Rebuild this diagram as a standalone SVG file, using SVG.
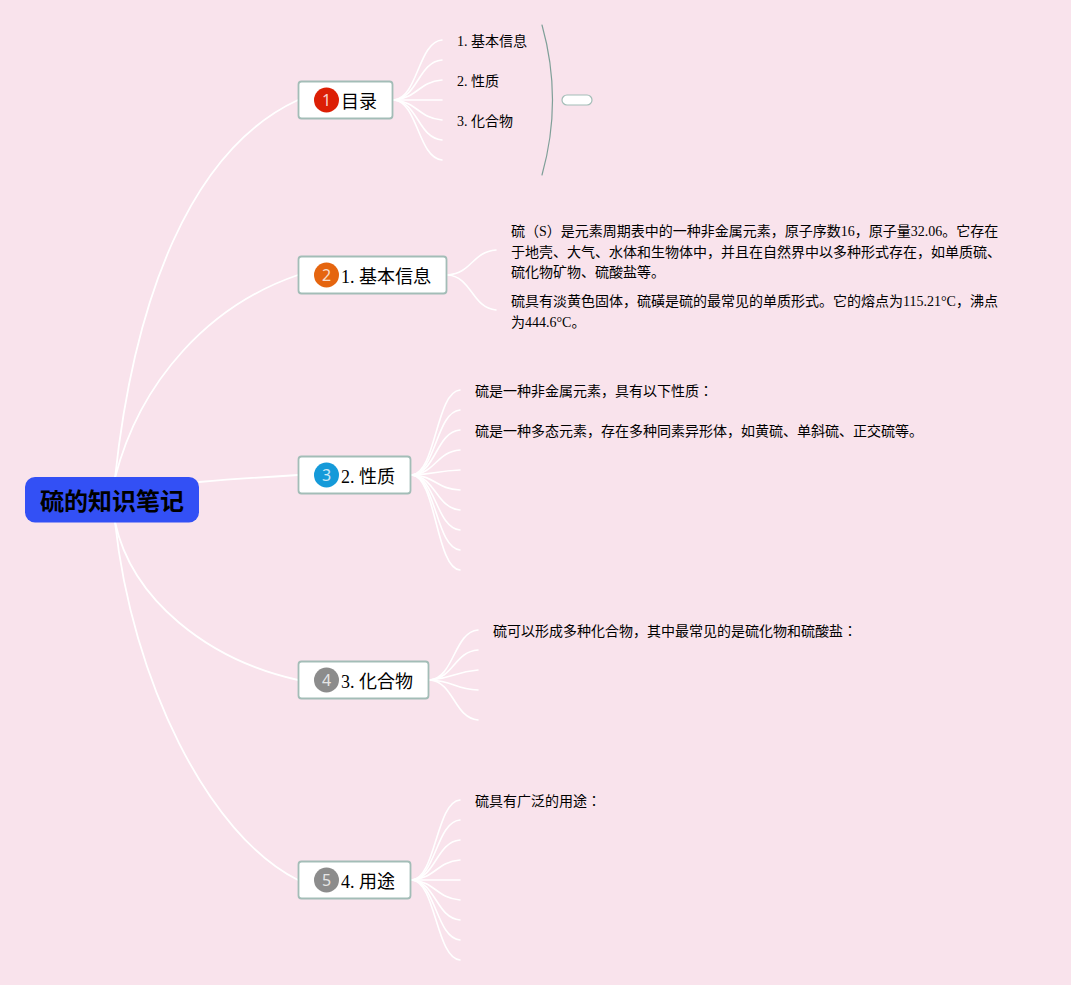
<svg xmlns="http://www.w3.org/2000/svg" width="1071" height="985" viewBox="0 0 1071 985">
<style>
text{font-family:"Liberation Serif","Noto Sans CJK JP",serif;fill:#000}
.c path{fill:none;stroke:#fff;stroke-linecap:round}
.m{stroke-width:1.800}
.s{stroke-width:1.600}
.n{fill:#fff;stroke:#a3bdb7;stroke-width:1.800}
.t{font-size:18px}
.d{font-size:14px}
.i{font-family:"Noto Sans","Liberation Sans",sans-serif;font-size:16px;fill:#fff;fill-opacity:.8;text-anchor:middle}
</style>
<rect width="1071" height="985" fill="#f9e3ec"/>
<g id="connectors" class="c">
<g class="m">
<path d="M115 478C134 300 190 150 298 100"/>
<path d="M115 478C140 380 210 305 298 275"/>
<path d="M199 482C235 479 265 477 298 475"/>
<path d="M115 522C132 600 208 660 298 680"/>
<path d="M115 522C132 680 208 835 298 880"/>
</g>
<g class="s">
<path d="M394 100C418 98 418 42 442 40"/><path d="M394 100C418 98 418 62 442 60"/><path d="M394 100C418 98 418 82 442 80"/><path d="M394 100H442"/><path d="M394 100C418 102 418 118 442 120"/><path d="M394 100C418 102 418 138 442 140"/><path d="M394 100C418 102 418 158 442 160"/>
<path d="M448 275C472 273 472 252 496 250"/><path d="M448 275C472 277 472 308 496 310"/>
<path d="M412 475C436 473 436 392 460 390"/><path d="M412 475C436 473 436 412 460 410"/><path d="M412 475C436 473 436 432 460 430"/><path d="M412 475C436 473 436 452 460 450"/><path d="M412 475C436 474 436 471 460 470"/><path d="M412 475C436 476 436 489 460 490"/><path d="M412 475C436 477 436 508 460 510"/><path d="M412 475C436 477 436 528 460 530"/><path d="M412 475C436 477 436 548 460 550"/><path d="M412 475C436 477 436 568 460 570"/>
<path d="M430 680C454 678 454 632 478 630"/><path d="M430 680C454 678 454 652 478 650"/><path d="M430 680C454 678 454 672 478 670"/><path d="M430 680C454 681 454 689 478 690"/><path d="M430 680C454 682 454 718 478 720"/>
<path d="M412 880C436 878 436 802 460 800"/><path d="M412 880C436 878 436 822 460 820"/><path d="M412 880C436 878 436 842 460 840"/><path d="M412 880C436 878 436 862 460 860"/><path d="M412 880H460"/><path d="M412 880C436 882 436 898 460 900"/><path d="M412 880C436 882 436 918 460 920"/><path d="M412 880C436 882 436 938 460 940"/><path d="M412 880C436 882 436 958 460 960"/>
</g>
<path d="M542 25C556 75 556 125 542 175" style="stroke:#7f9f98;stroke-width:1.200"/>
</g>
<g id="root"><rect x="25" y="477" width="174" height="45.500" rx="10" fill="#3350f5"/><text x="112" y="510" text-anchor="middle" font-size="24" font-weight="700">硫的知识笔记</text></g>
<g id="node-toc"><rect class="n" x="298.500" y="81.500" width="94" height="37" rx="3"/><circle cx="326.500" cy="100" r="12.500" fill="#dc1f05"/><text class="i" x="326.500" y="106">1</text><text class="t" x="341" y="108">目录</text></g>
<g id="node-basic"><rect class="n" x="298.500" y="256.500" width="148" height="37" rx="3"/><circle cx="326.500" cy="275" r="12.500" fill="#e5650f"/><text class="i" x="326.500" y="281">2</text><text class="t" x="341" y="283">1. 基本信息</text></g>
<g id="node-props"><rect class="n" x="298.500" y="456.500" width="112" height="37" rx="3"/><circle cx="326.500" cy="475" r="12.500" fill="#159ad9"/><text class="i" x="326.500" y="481">3</text><text class="t" x="341" y="483">2. 性质</text></g>
<g id="node-comp"><rect class="n" x="298.500" y="661.500" width="130" height="37" rx="3"/><circle cx="326.500" cy="680" r="12.500" fill="#8c8c8c"/><text class="i" x="326.500" y="686">4</text><text class="t" x="341" y="688">3. 化合物</text></g>
<g id="node-use"><rect class="n" x="298.500" y="861.500" width="112" height="37" rx="3"/><circle cx="326.500" cy="880" r="12.500" fill="#8c8c8c"/><text class="i" x="326.500" y="886">5</text><text class="t" x="341" y="888">4. 用途</text></g>
<g id="toc-items" class="d"><text x="457" y="46">1. 基本信息</text><text x="457" y="86">2. 性质</text><text x="457" y="126">3. 化合物</text></g>
<g id="summary"><rect x="562" y="95" width="30" height="10" rx="5" fill="#fff" stroke="#a3bdb7" stroke-width="1.200"/></g>
<g id="basic-text" class="d">
<text x="511" y="236">硫（S）是元素周期表中的一种非金属元素，原子序数16，原子量32.06。它存在</text>
<text x="511" y="257">于地壳、大气、水体和生物体中，并且在自然界中以多种形式存在，如单质硫、</text>
<text x="511" y="277">硫化物矿物、硫酸盐等。</text>
<text x="511" y="306">硫具有淡黄色固体，硫磺是硫的最常见的单质形式。它的熔点为115.21°C，沸点</text>
<text x="511" y="327">为444.6°C。</text>
</g>
<g id="props-text" class="d"><text x="475" y="396">硫是一种非金属元素，具有以下性质：</text><text x="475" y="436">硫是一种多态元素，存在多种同素异形体，如黄硫、单斜硫、正交硫等。</text></g>
<g id="comp-text" class="d"><text x="493" y="636">硫可以形成多种化合物，其中最常见的是硫化物和硫酸盐：</text></g>
<g id="use-text" class="d"><text x="475" y="806">硫具有广泛的用途：</text></g>
</svg>
